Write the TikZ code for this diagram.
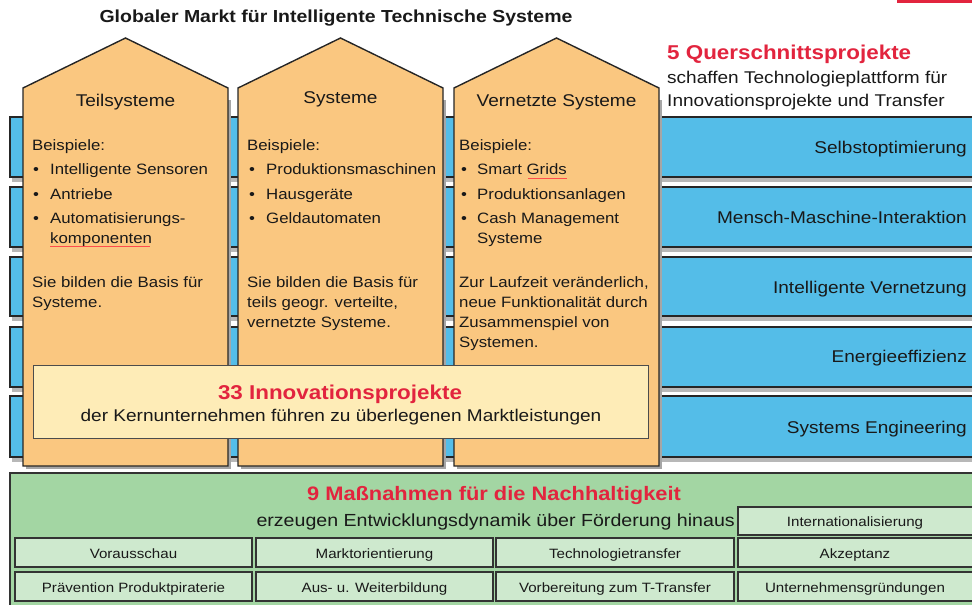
\documentclass[tikz,border=0pt]{standalone}
\usepackage{fontspec}
\setmainfont{Liberation Sans}[FakeStretch=1.12]
\definecolor{orangeh}{RGB}{250,199,128}
\definecolor{barblue}{RGB}{84,189,232}
\definecolor{greenarea}{RGB}{163,214,163}
\definecolor{greenbox}{RGB}{206,233,206}
\definecolor{innov}{RGB}{254,236,183}
\definecolor{redc}{RGB}{226,36,62}
\definecolor{txt}{RGB}{25,25,25}
\tikzset{
  tx/.style={inner sep=0pt, text=txt, font=\fontsize{15}{18}\selectfont, anchor=base west},
  hd/.style={inner sep=0pt, text=txt, font=\fontsize{17}{20}\selectfont, anchor=base},
  barlabel/.style={inner sep=0pt, text=txt, font=\fontsize{17}{20}\selectfont, anchor=base east},
  barshape/.style={fill=barblue, draw=black!85, line width=1.2pt},
  barshadow/.style={fill=black!28},
  houseshape/.style={fill=orangeh, draw=black!85, line width=1.4pt, line join=miter},
  houseshadow/.style={fill=black!35},
  boxshape/.style={fill=greenbox, draw=black!80, line width=1.4pt},
  boxtext/.style={inner sep=0pt, text=txt, font=\fontsize{13.5}{16}\selectfont, anchor=base},
  redtitle/.style={inner sep=0pt, text=redc, font=\bfseries\fontsize{20}{24}\selectfont},
  spellmark/.style={draw=red!70, line width=0.5pt}
}
\begin{document}
\begin{tikzpicture}[x=1pt,y=-1pt]
\clip (0,0) rectangle (972,605);
\fill[white] (0,0) rectangle (972,605);
\fill[redc] (897,0) rectangle (972,3);

% title
\node[inner sep=0pt, text=txt, font=\bfseries\fontsize{17.4}{20}\selectfont] (title) at (336,18) {Globaler Markt für Intelligente Technische Systeme};

% right header
\node[redtitle, anchor=base west] (qp) at (667,59) {5 Querschnittsprojekte};
\node[tx, font=\fontsize{17}{20}\selectfont] (qp1) at (667,83) {schaffen Technologieplattform für};
\node[tx, font=\fontsize{17}{20}\selectfont] (qp2) at (667,106) {Innovationsprojekte und Transfer};

% blue bars
\foreach \ya/\yb in {117/177, 187/247, 257/316, 327/387, 396/457}{
  \fill[barshadow] (12,\yb) rectangle (980,\yb+5);
  \draw[barshape] (10,\ya) rectangle (980,\yb);
}
\node[barlabel] (bl1) at (967,153) {Selbstoptimierung};
\node[barlabel] (bl2) at (967,223) {Mensch-Maschine-Interaktion};
\node[barlabel] (bl3) at (967,293) {Intelligente Vernetzung};
\node[barlabel] (bl4) at (967,362) {Energieeffizienz};
\node[barlabel] (bl5) at (967,433) {Systems Engineering};

% houses
\foreach \xl/\xr in {23/228, 238/443, 454/659}{
  \fill[houseshadow] (\xl+3,469) rectangle (\xr+3,100);
  \draw[houseshape] (\xl,466) -- (\xl,88) -- ({(\xl+\xr)/2},38) -- (\xr,88) -- (\xr,466) -- cycle;
}
\node[hd] (h1) at (125.5,106) {Teilsysteme};
\node[hd] (h2) at (340.5,103) {Systeme};
\node[hd] (h3) at (556.5,106) {Vernetzte Systeme};

% column 1
\node[tx] (c1a) at (32,150) {Beispiele:};
\node[tx] (c1b1) at (33,174) {•};
\node[tx] (c1b) at (50,174) {Intelligente Sensoren};
\node[tx] (c1c1) at (33,199) {•};
\node[tx] (c1c) at (50,199) {Antriebe};
\node[tx] (c1d1) at (33,223) {•};
\node[tx] (c1d) at (50,223) {Automatisierungs-};
\node[tx] (c1e) at (50,243) {komponenten};
\draw[spellmark] (c1e.base west) ++(0,3) -- ++(100,0);
\node[tx] (c1f) at (32,287) {Sie bilden die Basis für};
\node[tx] (c1g) at (32,307) {Systeme.};

% column 2
\node[tx] (c2a) at (247,150) {Beispiele:};
\node[tx] (c2b1) at (249,174) {•};
\node[tx] (c2b) at (266,174) {Produktionsmaschinen};
\node[tx] (c2c1) at (249,199) {•};
\node[tx] (c2c) at (266,199) {Hausgeräte};
\node[tx] (c2d1) at (249,223) {•};
\node[tx] (c2d) at (266,223) {Geldautomaten};
\node[tx] (c2f) at (247,287) {Sie bilden die Basis für};
\node[tx] (c2g) at (247,307) {teils geogr. verteilte,};
\node[tx] (c2h) at (247,327) {vernetzte Systeme.};

% column 3
\node[tx] (c3a) at (459,150) {Beispiele:};
\node[tx] (c3b1) at (461,174) {•};
\node[tx] (c3b) at (477,174) {Smart Grids};
\draw[spellmark] (528,178) -- (567,178);
\node[tx] (c3c1) at (461,199) {•};
\node[tx] (c3c) at (477,199) {Produktionsanlagen};
\node[tx] (c3d1) at (461,223) {•};
\node[tx] (c3d) at (477,223) {Cash Management};
\node[tx] (c3e) at (477,243) {Systeme};
\node[tx] (c3f) at (459,287) {Zur Laufzeit veränderlich,};
\node[tx] (c3g) at (459,307) {neue Funktionalität durch};
\node[tx] (c3h) at (459,327) {Zusammenspiel von};
\node[tx] (c3i) at (459,347) {Systemen.};

% innovation box
\draw[fill=innov, draw=black!70, line width=1pt] (33,365) rectangle (648,438);
\node[redtitle, anchor=base] (ip) at (340,399) {33 Innovationsprojekte};
\node[hd] (ip2) at (341,421) {der Kernunternehmen führen zu überlegenen Marktleistungen};

% green area
\draw[fill=greenarea, draw=black!80, line width=1.4pt] (10,473) rectangle (985,615);
\node[redtitle, anchor=base, font=\bfseries\fontsize{19.5}{24}\selectfont] (mn) at (494,500) {9 Maßnahmen für die Nachhaltigkeit};
\node[hd, anchor=base east, font=\fontsize{17.5}{20}\selectfont] (mn2) at (735,526) {erzeugen Entwicklungsdynamik über Förderung hinaus};

\draw[boxshape] (738,507) rectangle (985,535);
\node[boxtext] (m0) at (855,526) {Internationalisierung};
\foreach \xl/\xr in {15/252, 256/493, 496/734, 738/985}{
  \draw[boxshape] (\xl,538) rectangle (\xr,567);
  \draw[boxshape] (\xl,572) rectangle (\xr,601);
}
\node[boxtext] (m1) at (133.5,558) {Vorausschau};
\node[boxtext] (m2) at (374.5,558) {Marktorientierung};
\node[boxtext] (m3) at (615,558) {Technologietransfer};
\node[boxtext] (m4) at (855,558) {Akzeptanz};
\node[boxtext] (m5) at (133.5,592) {Prävention  Produktpiraterie};
\node[boxtext] (m6) at (374.5,592) {Aus- u. Weiterbildung};
\node[boxtext] (m7) at (615,592) {Vorbereitung zum T-Transfer};
\node[boxtext] (m8) at (855,592) {Unternehmensgründungen};
\end{tikzpicture}
\end{document}
